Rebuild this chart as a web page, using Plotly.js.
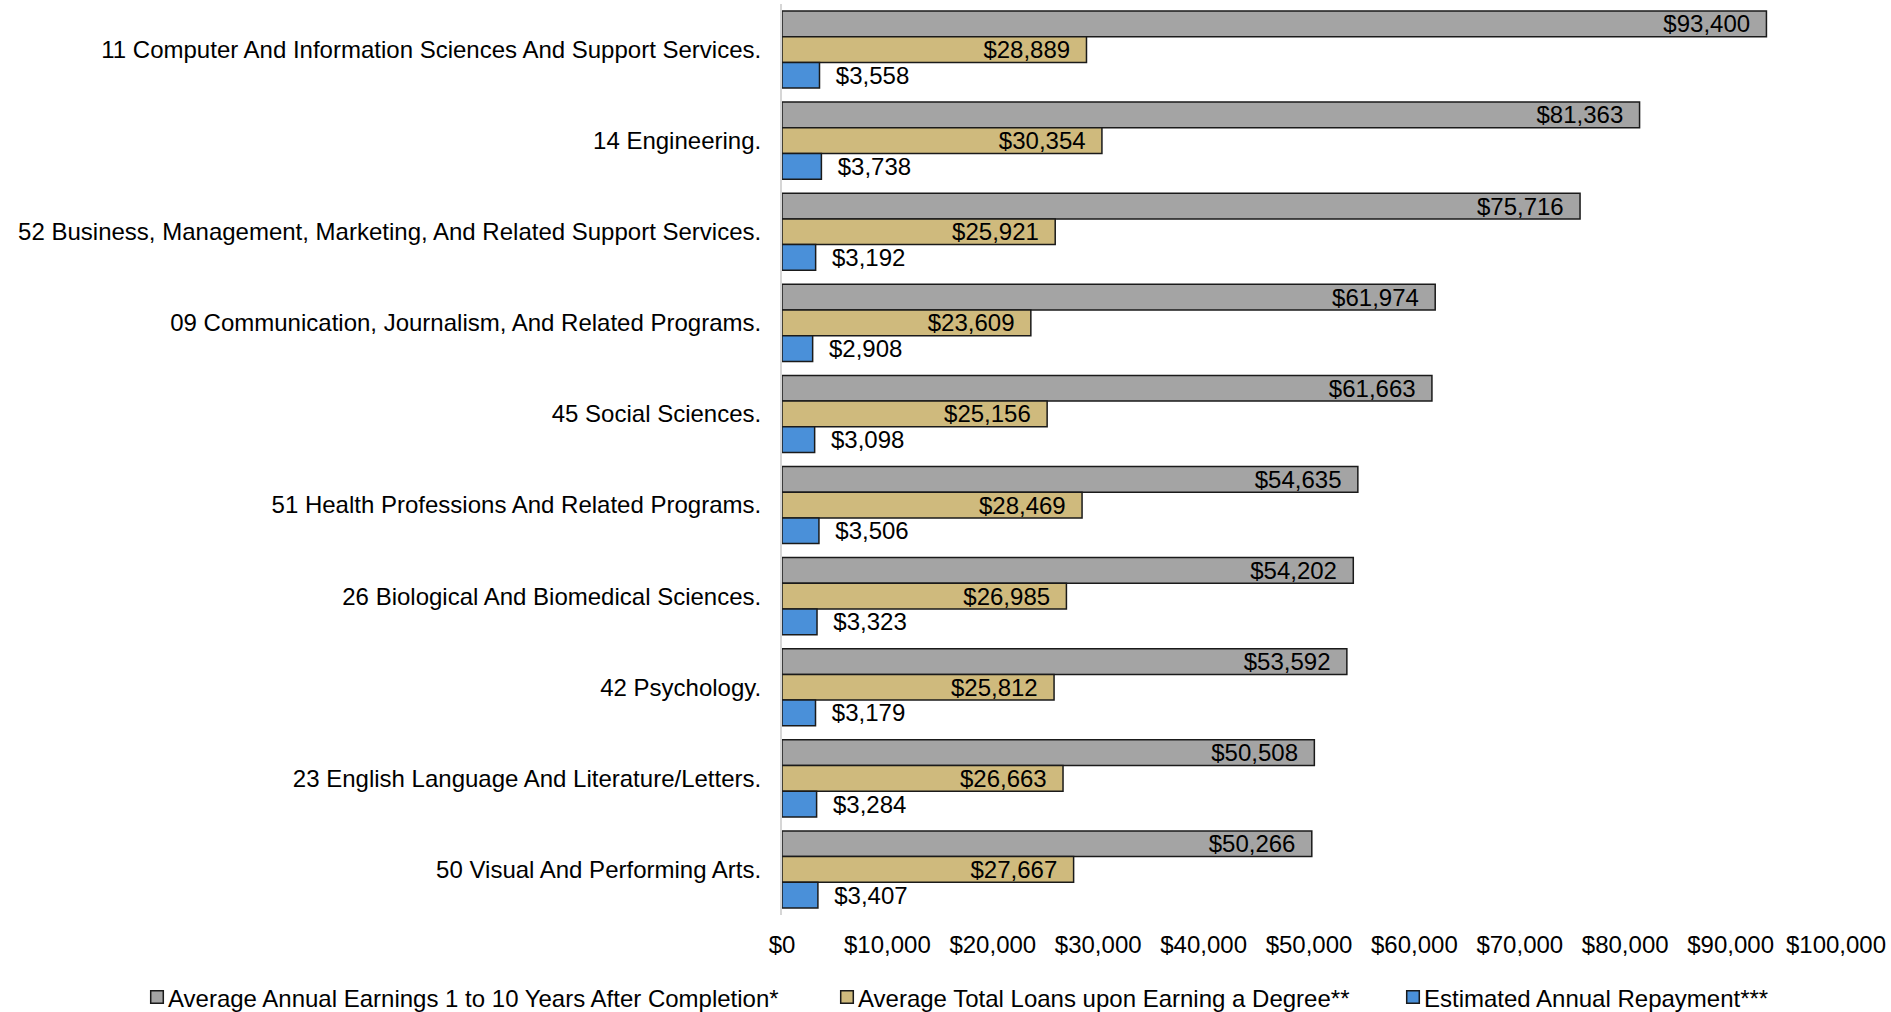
<!DOCTYPE html>
<html>
<head>
<meta charset="utf-8">
<script src="https://cdn.plot.ly/plotly-3.0.1.min.js"></script>
<style>
  html, body { margin: 0; padding: 0; background: #fff; }
  #chart { width: 1891px; height: 1012px; }
</style>
</head>
<body>
<div id="chart"></div>
<script>
const categories = [
  "11 Computer And Information Sciences And Support Services.",
  "14 Engineering.",
  "52 Business, Management, Marketing, And Related Support Services.",
  "09 Communication, Journalism, And Related Programs.",
  "45 Social Sciences.",
  "51 Health Professions And Related Programs.",
  "26 Biological And Biomedical Sciences.",
  "42 Psychology.",
  "23 English Language And Literature/Letters.",
  "50 Visual And Performing Arts."
];
const earnings = [93400, 81363, 75716, 61974, 61663, 54635, 54202, 53592, 50508, 50266];
const loans    = [28889, 30354, 25921, 23609, 25156, 28469, 26985, 25812, 26663, 27667];
const repayment = [3558, 3738, 3192, 2908, 3098, 3506, 3323, 3179, 3284, 3407];

const seriesNames = [
  "Average Annual Earnings 1 to 10 Years After Completion*",
  "Average Total Loans upon Earning a Degree**",
  "Estimated Annual Repayment***"
];
const seriesColors = ["#a4a4a4", "#cfba7d", "#4a90d9"];
const xTickValues = [0, 10000, 20000, 30000, 40000, 50000, 60000, 70000, 80000, 90000, 100000];
const xTickLabels = ["$0", "$10,000", "$20,000", "$30,000", "$40,000", "$50,000", "$60,000", "$70,000", "$80,000", "$90,000", "$100,000"];

const FONT = "Liberation Sans, Arial, Helvetica, sans-serif";
const FS = 24;
const NB = "\u00a0\u00a0";

// page geometry (pixels)
const W = 1891, H = 1012;
const M = { l: 782, r: 55, t: 4, b: 97 };
const PW = W - M.l - M.r, PH = H - M.t - M.b;
const px = (x) => (x - M.l) / PW;
const py = (y) => (H - M.b - y) / PH;

function barTrace(name, values, color, inside) {
  return {
    type: "bar",
    orientation: "h",
    name: name,
    y: categories,
    x: values,
    marker: { color: color, line: { color: "#1a1a1a", width: 1.5 } },
    texttemplate: inside ? "$%{x:,}" + NB : NB + "$%{x:,}",
    textposition: inside ? "inside" : "outside",
    insidetextanchor: "end",
    textangle: 0,
    constraintext: "none",
    cliponaxis: false,
    textfont: { family: FONT, size: FS, color: "#000" },
    hoverinfo: "none",
    showlegend: false
  };
}

const data = [
  barTrace(seriesNames[0], earnings, seriesColors[0], true),
  barTrace(seriesNames[1], loans, seriesColors[1], true),
  barTrace(seriesNames[2], repayment, seriesColors[2], false)
];

// manual legend (square + label) below the axis
const legendSquareX = [157, 847, 1413];
const legendY = 997;
const SQ = 6.3;
const shapes = [];
const annotations = [];
for (let i = 0; i < seriesNames.length; i++) {
  shapes.push({
    type: "rect", xref: "paper", yref: "paper",
    x0: px(legendSquareX[i] - SQ), x1: px(legendSquareX[i] + SQ),
    y0: py(legendY + SQ), y1: py(legendY - SQ),
    fillcolor: seriesColors[i],
    line: { color: "#1a1a1a", width: 1.5 }
  });
  annotations.push({
    xref: "paper", yref: "paper",
    x: px(legendSquareX[i] + SQ + 3), y: py(legendY + 1),
    xanchor: "left", yanchor: "middle",
    text: seriesNames[i], showarrow: false,
    font: { family: FONT, size: FS, color: "#000" }
  });
}

const layout = {
  width: W,
  height: H,
  paper_bgcolor: "#fff",
  plot_bgcolor: "#fff",
  font: { family: FONT, size: FS, color: "#000" },
  margin: { l: M.l, r: M.r, t: M.t, b: M.b, pad: 0 },
  barmode: "group",
  bargap: 0.154,
  bargroupgap: 0,
  showlegend: false,
  shapes: shapes,
  annotations: annotations,
  xaxis: {
    range: [0, 100000],
    tickmode: "array",
    tickvals: xTickValues,
    ticktext: xTickLabels,
    showgrid: false,
    zeroline: false,
    showline: false,
    ticks: "outside",
    ticklen: 8,
    tickcolor: "rgba(0,0,0,0)",
    tickfont: { family: FONT, size: FS, color: "#000" },
    automargin: false,
    fixedrange: true
  },
  yaxis: {
    type: "category",
    autorange: "reversed",
    showgrid: false,
    zeroline: false,
    showline: true,
    linecolor: "#d6d6d6",
    linewidth: 2,
    ticks: "outside",
    ticklen: 14,
    tickcolor: "rgba(0,0,0,0)",
    tickfont: { family: FONT, size: FS, color: "#000" },
    automargin: false,
    fixedrange: true
  }
};

Plotly.newPlot("chart", data, layout, { displayModeBar: false, staticPlot: true });
</script>
</body>
</html>
